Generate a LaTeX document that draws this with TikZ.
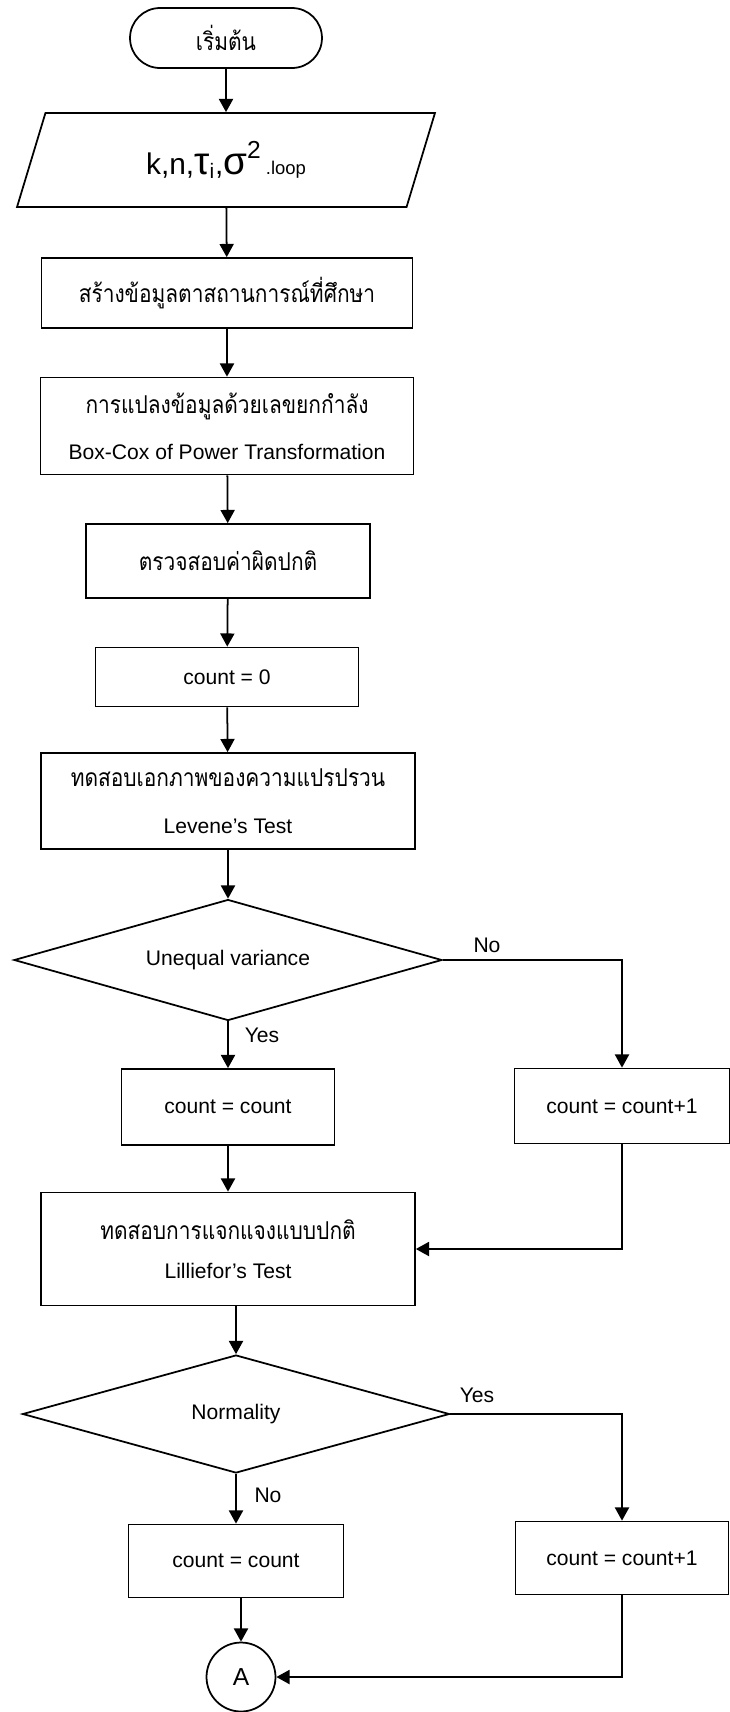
\documentclass[tikz,border=0pt]{standalone}
\usepackage{fontspec}
\setmainfont{Liberation Sans}
\newfontfamily\thaifont[Script=Thai,FakeStretch=0.85]{Loma}
\usetikzlibrary{arrows.meta, shapes.geometric}
\newcommand{\thtxt}[1]{{\thaifont\fontsize{14}{16}\selectfont #1}}

\begin{document}
\begin{tikzpicture}[x=0.02cm, y=-0.02cm, line width=1pt,
      every node/.style={font=\fontsize{12}{14}\selectfont},
      blk/.style={draw, rectangle, inner sep=2pt, align=center},
      dec/.style={draw, diamond, aspect=3.5, inner sep=0pt},
      arr/.style={-{Triangle[width=8pt,length=7.5pt]}}]
    \useasboundingbox (0,0) rectangle (730,1712);
    \node[blk, rounded corners=0.6cm, minimum width=3.84cm, minimum height=1.2cm] (start) at (226,38) {\thtxt{เริ่มต้น}};
    \node[draw, trapezium, trapezium left angle=53, trapezium right angle=127, trapezium stretches body,
          minimum width=8.36cm, minimum height=1.88cm, inner sep=0pt] (in) at (226,160)
          {\fontsize{17}{18}\selectfont k,n,{\fontsize{22}{22}\selectfont τ}\textsubscript{i},{\fontsize{22}{22}\selectfont σ}{\fontsize{14}{14}\selectfont\raisebox{9pt}{2}}\,{\fontsize{10.5}{12}\selectfont .loop}};
    \node[blk, minimum width=7.42cm, minimum height=1.4cm] (gen) at (227,293) {\thtxt{สร้างข้อมูลตาสถานการณ์ที่ศึกษา}};
    \node[blk, minimum width=7.46cm, minimum height=1.94cm] (bc) at (227,426) {\thtxt{การแปลงข้อมูลด้วยเลขยกกำลัง}\\[12pt] Box-Cox of Power Transformation};
    \node[blk, minimum width=5.68cm, minimum height=1.48cm] (chk) at (228,561) {\thtxt{ตรวจสอบค่าผิดปกติ}};
    \node[blk, minimum width=5.26cm, minimum height=1.18cm] (c0) at (227,677) {count = 0};
    \node[blk, minimum width=7.48cm, minimum height=1.92cm] (lev) at (228,801) {\thtxt{ทดสอบเอกภาพของความแปรปรวน}\\[13pt] Levene's Test};
    \node[dec, minimum width=8.56cm, minimum height=2.42cm] (var) at (228,960) {Unequal variance};
    \node[blk, minimum width=4.26cm, minimum height=1.52cm] (cc1) at (228,1107) {count = count};
    \node[blk, minimum width=4.3cm, minimum height=1.5cm] (cp1) at (622,1106) {count = count+1};
    \node[blk, minimum width=7.48cm, minimum height=2.26cm] (lil) at (228,1249) {\thtxt{ทดสอบการแจกแจงแบบปกติ}\\[8pt] Lilliefor's Test};
    \node[dec, minimum width=8.54cm, minimum height=2.36cm] (nor) at (236,1414) {Normality};
    \node[blk, minimum width=4.3cm, minimum height=1.46cm] (cc2) at (236,1561) {count = count};
    \node[blk, minimum width=4.26cm, minimum height=1.46cm] (cp2) at (622,1558) {count = count+1};
    \node[draw, circle, minimum size=1.38cm, inner sep=0pt] (A) at (241,1677) {\fontsize{14}{16}\selectfont A};
    \node (no1) at (487,945) {No};
    \node (yes1) at (262,1035) {Yes};
    \node (yes2) at (477,1395) {Yes};
    \node (no2) at (268,1495) {No};
    \draw[arr] (start) -- (in);
    \draw[arr] (in) -- (gen);
    \draw[arr] (gen) -- (bc);
    \draw[arr] (bc) -- (chk);
    \draw[arr] (chk) -- (c0);
    \draw[arr] (c0) -- (lev);
    \draw[arr] (lev) -- (var);
    \draw[arr] (var) -- (cc1);
    \draw[arr] (var) -| (cp1);
    \draw[arr] (cc1) -- (lil);
    \draw[arr] (cp1) |- (lil);
    \draw[arr] (lil.south -| nor) -- (nor);
    \draw[arr] (nor) -- (cc2);
    \draw[arr] (nor) -| (cp2);
    \draw[arr] (cc2.south -| A) -- (A);
    \draw[arr] (cp2) |- (A);
  \end{tikzpicture}
\end{document}
